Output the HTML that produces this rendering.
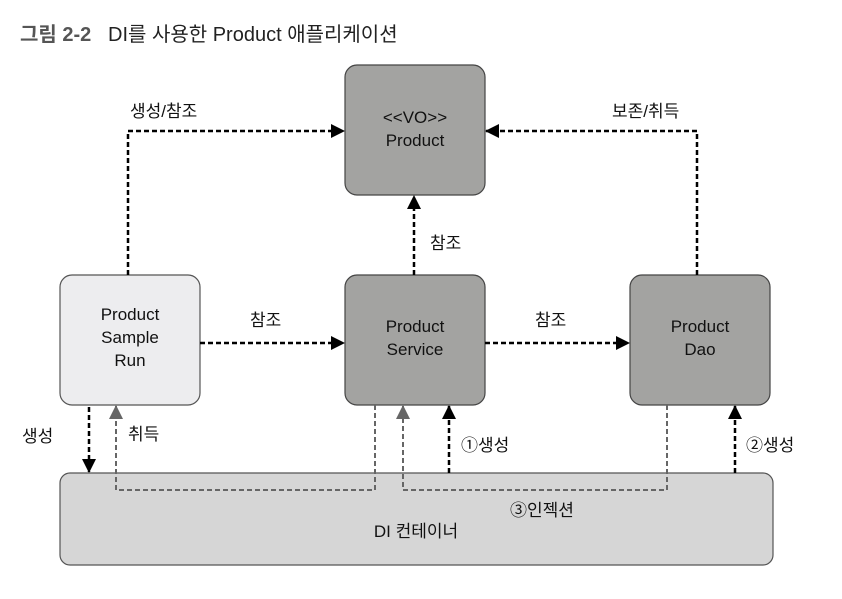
<!DOCTYPE html>
<html><head><meta charset="utf-8"><style>
body{margin:0;background:#fff;}
svg text{font-family:"Liberation Sans","Noto Sans CJK KR",sans-serif;}
</style></head><body>
<svg width="842" height="594" viewBox="0 0 842 594" xmlns="http://www.w3.org/2000/svg">
<defs>
<marker id="a" markerWidth="14" markerHeight="14" refX="13" refY="7" orient="auto" markerUnits="userSpaceOnUse"><path d="M0,0 L14,7 L0,14 z" fill="#000"/></marker>
<marker id="g" markerWidth="14" markerHeight="14" refX="13" refY="7" orient="auto" markerUnits="userSpaceOnUse"><path d="M0,0 L14,7 L0,14 z" fill="#666"/></marker>
</defs>
<text x="20" y="41" font-size="20" font-weight="bold" fill="#555">그림 2-2</text>
<text x="108" y="41" font-size="20" fill="#222">DI를 사용한 Product 애플리케이션</text>
<rect x="60" y="473" width="713" height="92" rx="10" fill="#d6d6d6" stroke="#555" stroke-width="1.2"/>
<rect x="345" y="65" width="140" height="130" rx="12" fill="#a3a3a1" stroke="#444" stroke-width="1.2"/>
<rect x="60" y="275" width="140" height="130" rx="12" fill="#ededef" stroke="#555" stroke-width="1.2"/>
<rect x="345" y="275" width="140" height="130" rx="12" fill="#a3a3a1" stroke="#444" stroke-width="1.2"/>
<rect x="630" y="275" width="140" height="130" rx="12" fill="#a3a3a1" stroke="#444" stroke-width="1.2"/>
<g font-size="17" fill="#111" text-anchor="middle">
<text x="415" y="123">&lt;&lt;VO&gt;&gt;</text><text x="415" y="146">Product</text>
<text x="130" y="320">Product</text><text x="130" y="343">Sample</text><text x="130" y="366">Run</text>
<text x="415" y="332">Product</text><text x="415" y="355">Service</text>
<text x="700" y="332">Product</text><text x="700" y="355">Dao</text>
<text x="416" y="537">DI 컨테이너</text>
</g>
<g fill="none" stroke="#000" stroke-width="2.5" stroke-dasharray="5,3">
<path d="M128,275 V131 H344" marker-end="url(#a)"/>
<path d="M697,275 V131 H486" marker-end="url(#a)"/>
<path d="M414,275 V196" marker-end="url(#a)"/>
<path d="M200,343 H344" marker-end="url(#a)"/>
<path d="M485,343 H629" marker-end="url(#a)"/>
<path d="M89,407 V472" marker-end="url(#a)"/>
<path d="M449,473 V406" marker-end="url(#a)"/>
<path d="M735,473 V406" marker-end="url(#a)"/>
</g>
<g fill="none" stroke="#666" stroke-width="2" stroke-dasharray="5,3">
<path d="M375,405 V490 H116 V406" marker-end="url(#g)"/>
<path d="M667,405 V490 H403 V406" marker-end="url(#g)"/>
</g>
<g font-size="17" fill="#111">
<text x="130" y="117">생성/참조</text>
<text x="612" y="117">보존/취득</text>
<text x="430" y="249">참조</text>
<text x="250" y="326">참조</text>
<text x="535" y="326">참조</text>
<text x="22" y="442">생성</text>
<text x="128" y="440">취득</text>
<text x="461" y="451">①생성</text>
<text x="746" y="451">②생성</text>
<text x="510" y="516">③인젝션</text>
</g>
</svg>
</body></html>
